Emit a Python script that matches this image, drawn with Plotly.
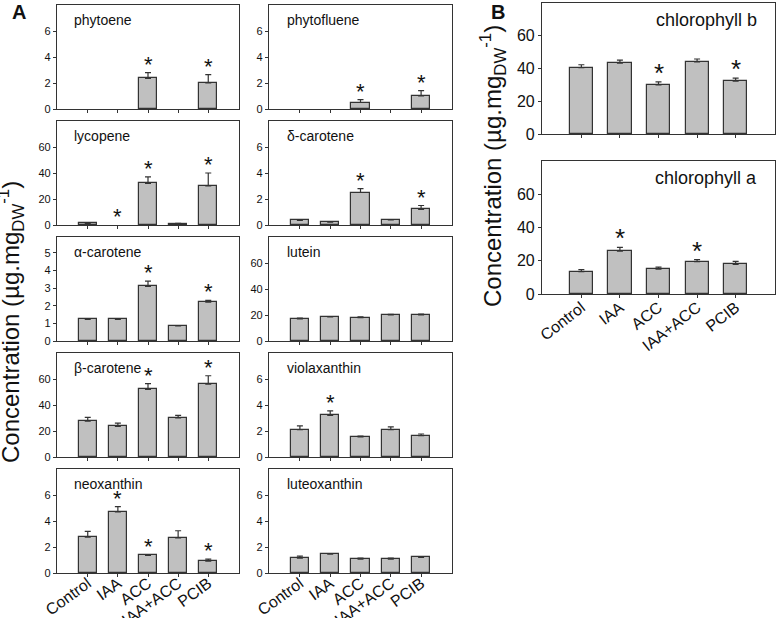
import plotly.graph_objects as go

groups = ["Control", "IAA", "ACC", "IAA+ACC", "PCIB"]

phytoene = [0, 0, 2.35, 0, 2.0]
phytoene_err = [0, 0, 0.45, 0, 0.65]
phytoene_sig = [0, 0, 1, 0, 1]

phytofluene = [0, 0, 0.5, 0, 1.0]
phytofluene_err = [0, 0, 0.22, 0, 0.42]
phytofluene_sig = [0, 0, 1, 0, 1]

lycopene = [1.2, 0, 32, 0.6, 30]
lycopene_err = [0.3, 0, 5, 0.6, 10]
lycopene_sig = [0, 1, 1, 0, 1]

delta_carotene = [0.35, 0.22, 2.5, 0.4, 1.2]
delta_carotene_err = [0, 0.05, 0.3, 0, 0.3]
delta_carotene_sig = [0, 0, 1, 0, 1]

alpha_carotene = [1.22, 1.22, 3.1, 0.85, 2.2]
alpha_carotene_err = [0.04, 0.04, 0.3, 0, 0.1]
alpha_carotene_sig = [0, 0, 1, 0, 1]

lutein = [17, 18.5, 18, 20, 20]
lutein_err = [0.7, 0, 0.6, 0.5, 0.6]
lutein_sig = [0, 0, 0, 0, 0]

beta_carotene = [27.5, 23.5, 52, 30, 56]
beta_carotene_err = [3, 2.5, 4.5, 2, 6.5]
beta_carotene_sig = [0, 0, 1, 0, 1]

violaxanthin = [2.1, 3.2, 1.55, 2.1, 1.65]
violaxanthin_err = [0.3, 0.35, 0.05, 0.22, 0.12]
violaxanthin_sig = [0, 1, 0, 0, 0]

neoxanthin = [2.75, 4.7, 1.35, 2.7, 0.92]
neoxanthin_err = [0.45, 0.4, 0.07, 0.55, 0.15]
neoxanthin_sig = [0, 1, 1, 0, 1]

luteoxanthin = [1.15, 1.45, 1.07, 1.07, 1.2]
luteoxanthin_err = [0.15, 0.05, 0.07, 0.07, 0]
luteoxanthin_sig = [0, 0, 0, 0, 0]

chl_b = [40.5, 43.3, 30, 44, 32.3]
chl_b_err = [1.8, 1.8, 1.8, 1.8, 1.8]
chl_b_sig = [0, 0, 1, 0, 1]

chl_a = [13.5, 25.8, 15, 19.5, 17.8]
chl_a_err = [1.2, 2.3, 1.2, 1.2, 1.8]
chl_a_sig = [0, 1, 0, 1, 0]

W, H = 778, 618
FONT = "Arial, Liberation Sans, sans-serif"
DARK = "#333333"

colA = [(57, 239), (269, 452)]
rowsA = [(5, 109), (121, 225), (237, 341), (353, 457), (469, 573)]
colB = (542, 775)
rowsB = [(3, 134), (161, 294)]

# name, values, err, sig, x px, y px, y max, ticks, bottom row, big
panels = [
    ("phytoene", phytoene, phytoene_err, phytoene_sig, colA[0], rowsA[0], 8, [0, 2, 4, 6], False, False),
    ("lycopene", lycopene, lycopene_err, lycopene_sig, colA[0], rowsA[1], 80, [0, 20, 40, 60], False, False),
    ("α-carotene", alpha_carotene, alpha_carotene_err, alpha_carotene_sig, colA[0], rowsA[2], 5.9, [0, 1, 2, 3, 4, 5], False, False),
    ("β-carotene", beta_carotene, beta_carotene_err, beta_carotene_sig, colA[0], rowsA[3], 80, [0, 20, 40, 60], False, False),
    ("neoxanthin", neoxanthin, neoxanthin_err, neoxanthin_sig, colA[0], rowsA[4], 8, [0, 2, 4, 6], True, False),
    ("phytofluene", phytofluene, phytofluene_err, phytofluene_sig, colA[1], rowsA[0], 8, [0, 2, 4, 6], False, False),
    ("δ-carotene", delta_carotene, delta_carotene_err, delta_carotene_sig, colA[1], rowsA[1], 8, [0, 2, 4, 6], False, False),
    ("lutein", lutein, lutein_err, lutein_sig, colA[1], rowsA[2], 80, [0, 20, 40, 60], False, False),
    ("violaxanthin", violaxanthin, violaxanthin_err, violaxanthin_sig, colA[1], rowsA[3], 8, [0, 2, 4, 6], False, False),
    ("luteoxanthin", luteoxanthin, luteoxanthin_err, luteoxanthin_sig, colA[1], rowsA[4], 8, [0, 2, 4, 6], True, False),
    ("chlorophyll b", chl_b, chl_b_err, chl_b_sig, colB, rowsB[0], 80, [0, 20, 40, 60], False, True),
    ("chlorophyll a", chl_a, chl_a_err, chl_a_sig, colB, rowsB[1], 80, [0, 20, 40, 60], True, True),
]

fig = go.Figure()
annotations = []
layout = {}
for i, (name, vals, err, sig, xp, yp, ymax, ticks, bottom, big) in enumerate(panels):
    n = "" if i == 0 else str(i + 1)
    # no bar at all where nothing was detected
    shown = [v if v > 0 else None for v in vals]
    fig.add_trace(go.Bar(
        x=list(range(len(groups))), y=shown, width=0.6,
        marker=dict(color="#c0c0c0", line=dict(color=DARK, width=1.2)),
        error_y=dict(type="data", array=err, arrayminus=[0] * len(err), symmetric=False,
                     color=DARK, thickness=1.2, width=3),
        xaxis="x" + n, yaxis="y" + n, showlegend=False, hoverinfo="skip"))
    layout["xaxis" + n] = dict(
        domain=[xp[0] / W, xp[1] / W], anchor="y" + n, range=[-1.02, 5.02], automargin=False,
        tickmode="array", tickvals=list(range(len(groups))),
        ticktext=groups if bottom else [""] * len(groups),
        tickangle=-38 if big else -36, ticklabelstandoff=-6 if big else -9,
        tickfont=dict(family=FONT, size=16, color="#111"),
        ticks="outside", ticklen=3, tickcolor=DARK,
        showline=True, linecolor=DARK, linewidth=1.2, mirror=True, showgrid=False, zeroline=False)
    layout["yaxis" + n] = dict(
        domain=[1 - yp[1] / H, 1 - yp[0] / H], anchor="x" + n, range=[0, ymax], automargin=False,
        tickmode="array", tickvals=ticks,
        tickfont=dict(family=FONT, size=16 if big else 11, color="#111"),
        ticks="outside", ticklen=3, tickcolor=DARK,
        showline=True, linecolor=DARK, linewidth=1.2, mirror=True, showgrid=False, zeroline=False)
    if big:
        annotations.append(dict(text=name, xref="x" + n + " domain", yref="y" + n + " domain",
                                x=0.93, y=1 - 17 / (yp[1] - yp[0]), xanchor="right", yanchor="middle",
                                showarrow=False, font=dict(family=FONT, size=18, color="#111")))
    else:
        annotations.append(dict(text=name, xref="x" + n + " domain", yref="y" + n + " domain",
                                x=0.085, y=1 - 15 / (yp[1] - yp[0]), xanchor="left", yanchor="middle",
                                showarrow=False, font=dict(family=FONT, size=14, color="#111")))
    for j, s in enumerate(sig):
        if s:
            annotations.append(dict(text="*", xref="x" + n, yref="y" + n, x=j, y=vals[j] + err[j],
                                    xanchor="center", yanchor="bottom", yshift=-8 if big else -6,
                                    showarrow=False,
                                    font=dict(family=FONT, size=26 if big else 22, color="#111")))

ytitle = "Concentration (µg.mg<sub>DW</sub><sup>-1</sup>)"
annotations += [
    dict(text=ytitle, xref="paper", yref="paper", x=11 / W, y=1 - 322 / H, textangle=-90,
         xanchor="center", yanchor="middle", showarrow=False, font=dict(family=FONT, size=24, color="#111")),
    dict(text=ytitle, xref="paper", yref="paper", x=493 / W, y=1 - 166 / H, textangle=-90,
         xanchor="center", yanchor="middle", showarrow=False, font=dict(family=FONT, size=24, color="#111")),
    dict(text="<b>A</b>", xref="paper", yref="paper", x=19 / W, y=1 - 12 / H, xanchor="center",
         yanchor="middle", showarrow=False, font=dict(family=FONT, size=20, color="#111")),
    dict(text="<b>B</b>", xref="paper", yref="paper", x=498 / W, y=1 - 12 / H, xanchor="center",
         yanchor="middle", showarrow=False, font=dict(family=FONT, size=20, color="#111")),
]

fig.update_layout(template="none", width=W, height=H, margin=dict(l=0, r=0, t=0, b=0, autoexpand=False),
                  plot_bgcolor="white", paper_bgcolor="white", bargap=0,
                  annotations=annotations, **layout)
fig.write_html("out.html", config={"displayModeBar": False},
               post_script="document.body.style.margin='0';")
